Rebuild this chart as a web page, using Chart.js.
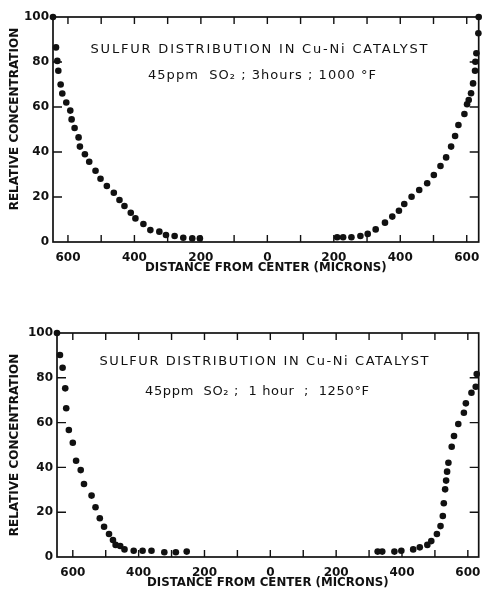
<!DOCTYPE html>
<html>
<head>
<meta charset="utf-8">
<script src="https://cdn.jsdelivr.net/npm/chart.js@4.4.1/dist/chart.umd.min.js"></script>
<style>
  html, body { margin: 0; padding: 0; background: #fff; }
  .panel { position: absolute; left: 0; }
  #top { top: 0; }
  #bottom { top: 300px; }
</style>
</head>
<body>
<div class="panel" id="top"><canvas id="chartTop" width="482" height="290"></canvas></div>
<div class="panel" id="bottom"><canvas id="chartBottom" width="482" height="294"></canvas></div>
<script>
// distance from center in microns (left side of the pellet is negative)
const topLeftDist = [-645, -636, -632, -629, -622, -617, -605, -593, -589, -580, -568, -564, -549, -536, -517, -502, -483, -462, -445, -430, -411, -397, -373, -352, -325, -305, -279, -253, -226, -203];
const topLeftConc = [100, 86.5, 80.5, 76.1, 70, 66, 62, 58.4, 54.5, 50.7, 46.5, 42.4, 39, 35.7, 31.7, 28.1, 24.9, 21.9, 18.7, 16, 13, 10.5, 8, 5.3, 4.6, 3.1, 2.7, 1.9, 1.6, 1.6];
const topRightDist = [210, 228, 253, 280, 302, 326, 354, 376, 396, 412, 434, 457, 481, 501, 521, 538, 553, 565, 575, 593, 601, 606, 613, 619, 625, 626, 629, 635, 636];
const topRightConc = [2.1, 2.1, 2.1, 2.7, 3.6, 5.6, 8.6, 11.3, 13.9, 16.9, 20.1, 23.1, 26.1, 29.8, 33.8, 37.6, 42.4, 47.1, 52, 56.9, 61.2, 63.1, 66.1, 70.5, 76.1, 80.1, 83.9, 92.8, 100];

const botLeftDist = [-648, -639, -631, -623, -620, -612, -600, -590, -576, -566, -543, -531, -518, -505, -490, -478, -470, -456, -443, -415, -388, -361, -322, -287, -254];
const botLeftConc = [100, 90.2, 84.5, 75.3, 66.4, 56.7, 51, 43, 38.8, 32.6, 27.4, 22.2, 17.3, 13.5, 10.3, 7.6, 5.4, 4.9, 3.4, 2.8, 2.8, 2.8, 2.1, 2.1, 2.4];
const botRightDist = [326, 340, 377, 398, 434, 454, 477, 489, 506, 517, 524, 527, 531, 534, 537, 541, 551, 558, 571, 588, 594, 611, 624, 627];
const botRightConc = [2.4, 2.4, 2.4, 2.8, 3.4, 4.3, 5.4, 7.1, 10.3, 13.8, 18.3, 24, 30.2, 34.1, 38.1, 42.1, 49.2, 54, 59.4, 64.4, 68.6, 73.3, 76, 81.7];

const yTicks = [0, 20, 40, 60, 80, 100];
const titleLine = "SULFUR DISTRIBUTION IN Cu-Ni CATALYST";
const topCondition = "45ppm  SO\u2082 ; 3hours ; 1000 \u00B0F";
const botCondition = "45ppm  SO\u2082 ;  1 hour  ;  1250\u00B0F";

const INK = "#111";
const FONT = "'DejaVu Sans', sans-serif";

const toPoints = (xs, ys) => xs.map((x, i) => ({ x: x, y: ys[i] }));

// box around the plot with inward ticks on all four sides
const framePlugin = {
  id: "frame",
  beforeDatasetsDraw(chart) {
    const { ctx, chartArea: a, scales: { x, y } } = chart;
    ctx.save();
    ctx.strokeStyle = INK;
    ctx.lineWidth = 1.7;
    ctx.strokeRect(a.left, a.top, a.right - a.left, a.bottom - a.top);
    ctx.lineWidth = 1.4;
    ctx.beginPath();
    x.ticks.forEach((t) => {
      const px = x.getPixelForValue(t.value);
      ctx.moveTo(px, a.bottom);
      ctx.lineTo(px, a.bottom - 7);
      ctx.moveTo(px, a.top);
      ctx.lineTo(px, a.top + 7);
    });
    y.ticks.forEach((t) => {
      if (t.value <= 0 || t.value >= 100) return;
      const py = y.getPixelForValue(t.value);
      ctx.moveTo(a.left, py);
      ctx.lineTo(a.left + 9, py);
      ctx.moveTo(a.right, py);
      ctx.lineTo(a.right - 9, py);
    });
    ctx.stroke();
    ctx.restore();
  },
};

// two-line caption written inside the plot area, stretched to the lettering width
const captionPlugin = {
  id: "caption",
  afterDatasetsDraw(chart, args, opts) {
    const { ctx, chartArea: a } = chart;
    ctx.save();
    ctx.fillStyle = INK;
    ctx.textBaseline = "middle";
    ctx.textAlign = "left";
    opts.lines.forEach((l) => {
      ctx.font = l.font;
      ctx.letterSpacing = "0px";
      const natural = ctx.measureText(l.text).width;
      const gap = (l.width - natural) / (l.text.length - 1);
      ctx.letterSpacing = gap + "px";
      ctx.fillText(l.text, a.left + l.cx - l.width / 2, a.top + l.cy);
    });
    ctx.restore();
  },
};

function makeChart(id, cfg) {
  const ctx = document.getElementById(id).getContext("2d");
  return new Chart(ctx, {
    type: "scatter",
    data: {
      datasets: [
        { data: toPoints(cfg.leftDist, cfg.leftConc) },
        { data: toPoints(cfg.rightDist, cfg.rightConc) },
      ],
    },
    options: {
      responsive: false,
      animation: false,
      layout: { padding: cfg.padding },
      elements: {
        point: { radius: 3.3, backgroundColor: INK, borderWidth: 0, hoverRadius: 3.3 },
      },
      datasets: { scatter: { clip: false, showLine: false } },
      scales: {
        x: {
          type: "linear",
          min: cfg.xMin,
          max: cfg.xMax,
          afterFit: (s) => {
            s.height = 33;
            s.paddingLeft = 0;
            s.paddingRight = 0;
          },
          grid: { display: false, drawTicks: false },
          border: { display: false },
          ticks: {
            stepSize: 100,
            includeBounds: false,
            autoSkip: false,
            maxRotation: 0,
            padding: 9,
            color: INK,
            font: { family: FONT, size: 12, weight: "bold" },
            callback: (v) => (v % 200 === 0 ? String(Math.abs(v)) : ""),
          },
          title: {
            display: true,
            text: "DISTANCE FROM CENTER (MICRONS)",
            color: INK,
            font: { family: FONT, size: 11.8, weight: "bold" },
            padding: { top: 0, bottom: 0 },
          },
        },
        y: {
          min: 0,
          max: 100,
          afterFit: (s) => { s.width = cfg.yWidth; },
          afterBuildTicks: (s) => { s.ticks = yTicks.map((v) => ({ value: v })); },
          grid: { display: false, drawTicks: false },
          border: { display: false },
          ticks: {
            padding: 4,
            color: INK,
            font: { family: FONT, size: 12, weight: "bold" },
          },
          title: {
            display: true,
            text: cfg.yTitle,
            color: INK,
            font: { family: FONT, size: 12, weight: "bold" },
            padding: { top: 8, bottom: 0 },
          },
        },
      },
      plugins: {
        legend: { display: false },
        tooltip: { enabled: false },
        caption: { lines: cfg.caption },
      },
    },
    plugins: [framePlugin, captionPlugin],
  });
}

makeChart("chartTop", {
  leftDist: topLeftDist, leftConc: topLeftConc,
  rightDist: topRightDist, rightConc: topRightConc,
  xMin: -645, xMax: 636,
  yWidth: 53,
  yTitle: "     RELATIVE CONCENTRATION",
  padding: { top: 17, left: 0, right: 1, bottom: 15 },
  caption: [
    { text: titleLine, font: "13px " + FONT, cx: 206, cy: 33, width: 337 },
    { text: topCondition, font: "13px " + FONT, cx: 209, cy: 59, width: 228 },
  ],
});

makeChart("chartBottom", {
  leftDist: botLeftDist, leftConc: botLeftConc,
  rightDist: botRightDist, rightConc: botRightConc,
  xMin: -648, xMax: 633,
  yWidth: 57,
  yTitle: "RELATIVE CONCENTRATION",
  padding: { top: 33, left: 0, right: 1, bottom: 4 },
  caption: [
    { text: titleLine, font: "13px " + FONT, cx: 207, cy: 29, width: 329 },
    { text: botCondition, font: "13px " + FONT, cx: 200, cy: 59, width: 224 },
  ],
});
</script>
</body>
</html>
